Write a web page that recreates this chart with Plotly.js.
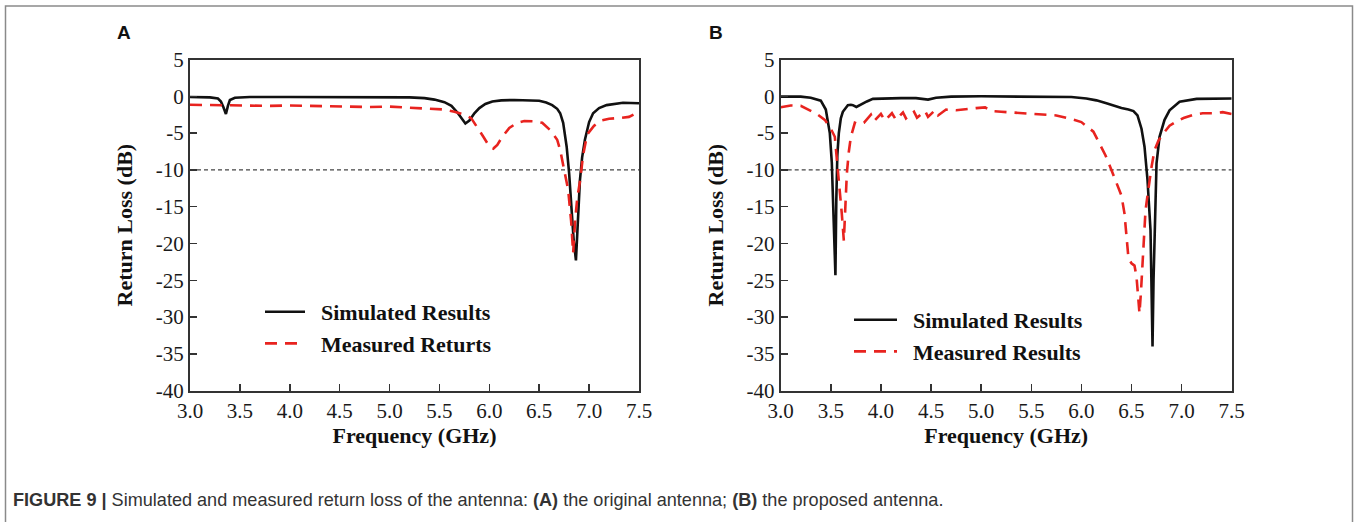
<!DOCTYPE html>
<html><head><meta charset="utf-8">
<script src="https://cdn.plot.ly/plotly-3.0.1.min.js"></script>
<style>html,body{margin:0;padding:0;background:#fff;}#chart{width:1359px;height:522px;}</style>
</head><body><div id="chart"></div>
<script>
// ---------- DATA ----------
const xTickVals = [3.0, 3.5, 4.0, 4.5, 5.0, 5.5, 6.0, 6.5, 7.0, 7.5];
const xTickText = ['3.0','3.5','4.0','4.5','5.0','5.5','6.0','6.5','7.0','7.5'];
const yTickVals = [5, 0, -5, -10, -15, -20, -25, -30, -35, -40];
const yTickText = ['5','0','-5','-10','-15','-20','-25','-30','-35','-40'];
const threshold = -10;

// Panel A: original antenna
const fA_sim = [3.00,3.10,3.20,3.28,3.31,3.335,3.36,3.38,3.40,3.45,3.60,4.00,4.50,5.00,5.20,5.35,5.45,5.55,5.62,5.68,5.72,5.76,5.80,5.85,5.90,5.96,6.03,6.12,6.25,6.40,6.50,6.57,6.63,6.68,6.71,6.74,6.775,6.80,6.825,6.845,6.868,6.888,6.908,6.93,6.958,7.00,7.04,7.10,7.175,7.34,7.50];
const vA_sim = [-0.1,-0.1,-0.15,-0.3,-0.7,-1.5,-2.4,-1.3,-0.5,-0.2,-0.1,-0.1,-0.1,-0.1,-0.15,-0.25,-0.45,-0.8,-1.3,-2.2,-3.0,-3.7,-3.3,-2.3,-1.6,-1.05,-0.7,-0.55,-0.5,-0.5,-0.6,-0.85,-1.2,-1.7,-2.3,-3.6,-6.85,-10.5,-15.9,-19.5,-22.3,-17.0,-11.4,-8.3,-5.9,-3.5,-2.3,-1.6,-1.2,-0.87,-0.95];

const fA_meas = [3.00,3.20,3.40,3.60,3.80,4.00,4.20,4.40,4.60,4.80,5.00,5.20,5.40,5.55,5.65,5.75,5.82,5.88,5.94,6.00,6.04,6.08,6.13,6.20,6.28,6.35,6.45,6.53,6.61,6.68,6.71,6.75,6.79,6.82,6.84,6.86,6.88,6.91,6.94,6.98,7.05,7.12,7.20,7.30,7.40,7.50];
const vA_meas = [-1.15,-1.2,-1.2,-1.3,-1.3,-1.25,-1.3,-1.4,-1.5,-1.45,-1.4,-1.55,-1.6,-1.8,-2.1,-2.5,-3.0,-4.2,-5.5,-6.8,-7.1,-6.6,-5.5,-4.3,-3.6,-3.35,-3.4,-3.6,-4.6,-5.9,-7.3,-10.0,-12.7,-17.0,-21.3,-16.8,-14.0,-11.4,-8.0,-5.2,-4.0,-3.3,-3.05,-2.95,-2.8,-2.1];

// Panel B: proposed antenna
const fB_sim = [3.00,3.20,3.30,3.40,3.45,3.49,3.51,3.52,3.535,3.546,3.555,3.565,3.58,3.60,3.62,3.67,3.70,3.72,3.755,3.80,3.86,3.92,4.00,4.20,4.35,4.42,4.47,4.55,4.70,5.00,5.50,5.90,6.05,6.15,6.25,6.32,6.40,6.47,6.52,6.56,6.60,6.63,6.66,6.69,6.71,6.72,6.735,6.75,6.78,6.83,6.88,6.98,7.15,7.30,7.50];
const vB_sim = [-0.05,-0.05,-0.2,-0.6,-1.8,-5.0,-9.0,-13.0,-18.5,-24.3,-14.0,-8.0,-5.0,-3.0,-2.1,-1.2,-1.15,-1.2,-1.45,-1.1,-0.7,-0.35,-0.3,-0.25,-0.25,-0.4,-0.45,-0.2,-0.05,0.0,0.0,-0.1,-0.3,-0.55,-0.95,-1.3,-1.6,-1.8,-2.0,-2.6,-4.4,-6.85,-11.4,-18.2,-34.0,-25.0,-15.9,-9.1,-5.5,-3.2,-1.9,-0.73,-0.35,-0.3,-0.3];

const fB_meas = [3.00,3.10,3.20,3.28,3.36,3.44,3.50,3.54,3.56,3.575,3.61,3.63,3.645,3.66,3.68,3.70,3.74,3.78,3.83,3.90,3.93,4.00,4.04,4.11,4.15,4.22,4.25,4.33,4.36,4.44,4.47,4.54,4.57,4.65,4.75,4.85,4.95,5.04,5.10,5.20,5.30,5.45,5.60,5.75,5.90,6.00,6.12,6.18,6.24,6.30,6.36,6.40,6.43,6.455,6.47,6.50,6.53,6.55,6.57,6.58,6.595,6.61,6.625,6.64,6.66,6.68,6.70,6.73,6.77,6.82,6.88,6.95,7.02,7.11,7.21,7.31,7.41,7.50];
const vB_meas = [-1.5,-1.25,-1.3,-1.8,-2.4,-3.2,-4.4,-5.5,-8.3,-10.5,-16.0,-19.6,-14.0,-10.5,-7.5,-5.5,-3.6,-3.8,-3.6,-2.5,-3.4,-2.4,-3.3,-2.3,-3.2,-2.2,-3.0,-2.1,-2.9,-2.0,-2.8,-1.9,-2.6,-1.8,-1.9,-1.7,-1.6,-1.5,-2.0,-2.1,-2.2,-2.4,-2.5,-2.6,-3.1,-3.5,-4.8,-6.3,-8.0,-10.0,-12.0,-13.5,-15.9,-19.5,-22.0,-22.7,-23.0,-24.5,-28.0,-29.5,-26.5,-23.0,-18.5,-15.5,-13.5,-11.4,-9.6,-7.3,-6.0,-5.0,-4.0,-3.4,-2.95,-2.55,-2.3,-2.3,-2.15,-2.4];

const seriesNames = ['Simulated Results', 'Measured Returts', 'Simulated Results', 'Measured Results'];
const panelLabels = ['A', 'B'];
const captionText = '<b>FIGURE 9 |</b> Simulated and measured return loss of the antenna: <b>(A)</b> the original antenna; <b>(B)</b> the proposed antenna.';
const xTitle = 'Frequency (GHz)';
const yTitle = 'Return Loss (dB)';

// ---------- LAYOUT HELPERS ----------
const W = 1359, H = 522;
const px = v => v / W;
const py = v => 1 - v / H;
const serif = 'Liberation Serif, Times New Roman, serif';
const sans = 'Liberation Sans, Arial, sans-serif';
const RED = '#e8231f';
const pad = '\u00a0\u00a0';

const simLine = {color: '#111', width: 2.6};
const measLine = {color: RED, width: 2.6, dash: '12px,8px'};

const traces = [
  {x: fA_sim, y: vA_sim, xaxis: 'x', yaxis: 'y', mode: 'lines', name: pad + seriesNames[0], line: simLine, legend: 'legend'},
  {x: fA_meas, y: vA_meas, xaxis: 'x', yaxis: 'y', mode: 'lines', name: pad + seriesNames[1], line: measLine, legend: 'legend'},
  {x: fB_sim, y: vB_sim, xaxis: 'x2', yaxis: 'y2', mode: 'lines', name: pad + seriesNames[2], line: simLine, legend: 'legend2'},
  {x: fB_meas, y: vB_meas, xaxis: 'x2', yaxis: 'y2', mode: 'lines', name: pad + seriesNames[3], line: measLine, legend: 'legend2'}
];

function xAxis(domain, anchor) {
  return {
    domain: domain, anchor: anchor, range: [xTickVals[0], xTickVals[xTickVals.length-1]],
    tickmode: 'array', tickvals: xTickVals, ticktext: xTickText,
    ticks: 'inside', ticklen: 7, tickwidth: 1.5, tickcolor: '#333',
    showline: true, linecolor: '#333', linewidth: 2, mirror: true,
    showgrid: false, zeroline: false, automargin: false, fixedrange: true,
    tickfont: {family: serif, size: 21, color: '#1a1a1a'},
    title: {text: xTitle, font: {family: serif, size: 22, color: '#111', weight: 'bold'}, standoff: 6}
  };
}
function yAxis(domain, anchor) {
  return {
    domain: domain, anchor: anchor, range: [yTickVals[yTickVals.length-1], yTickVals[0]],
    tickmode: 'array', tickvals: yTickVals, ticktext: yTickText,
    ticks: 'inside', ticklen: 7, tickwidth: 1.5, tickcolor: '#333',
    showline: true, linecolor: '#333', linewidth: 2, mirror: true,
    showgrid: false, zeroline: false, automargin: false, fixedrange: true,
    tickfont: {family: serif, size: 21, color: '#1a1a1a'},
    title: {text: yTitle, font: {family: serif, size: 22, color: '#111', weight: 'bold'}, standoff: 17}
  };
}

const yDom = [py(390.7), py(59.5)];
const legendFont = {family: serif, size: 22, color: '#111', weight: 'bold'};

const layout = {
  width: W, height: H,
  margin: {l: 0, r: 0, t: 0, b: 0},
  paper_bgcolor: '#fff', plot_bgcolor: '#fff',
  showlegend: true,
  xaxis: xAxis([px(190), px(639)], 'y'),
  yaxis: yAxis(yDom, 'x'),
  xaxis2: xAxis([px(780.7), px(1231.7)], 'y2'),
  yaxis2: yAxis(yDom, 'x2'),
  legend: {x: px(260), y: py(291), xanchor: 'left', yanchor: 'top', bgcolor: 'rgba(0,0,0,0)', font: legendFont, itemwidth: 40, tracegroupgap: 0},
  legend2: {x: px(849), y: py(299), xanchor: 'left', yanchor: 'top', bgcolor: 'rgba(0,0,0,0)', font: legendFont, itemwidth: 43, tracegroupgap: 0},
  shapes: [
    {type: 'line', xref: 'x', yref: 'y', x0: xTickVals[0], x1: xTickVals[xTickVals.length-1], y0: threshold, y1: threshold, layer: 'below', line: {color: '#444', width: 1.3, dash: '4px,3px'}},
    {type: 'line', xref: 'x2', yref: 'y2', x0: xTickVals[0], x1: xTickVals[xTickVals.length-1], y0: threshold, y1: threshold, layer: 'below', line: {color: '#444', width: 1.3, dash: '4px,3px'}},
    {type: 'path', xref: 'paper', yref: 'paper', path: `M ${px(5.5)} ${py(540)} L ${px(5.5)} ${py(6)} L ${px(1352.5)} ${py(6)} L ${px(1352.5)} ${py(540)}`, line: {color: '#8a8a8a', width: 1.5}}
  ],
  annotations: [
    {xref: 'paper', yref: 'paper', x: px(124), y: py(33), text: panelLabels[0], showarrow: false, xanchor: 'center', yanchor: 'middle', font: {family: sans, size: 19, color: '#111', weight: 'bold'}},
    {xref: 'paper', yref: 'paper', x: px(716), y: py(33), text: panelLabels[1], showarrow: false, xanchor: 'center', yanchor: 'middle', font: {family: sans, size: 19, color: '#111', weight: 'bold'}},
    {xref: 'paper', yref: 'paper', x: px(11), y: py(500), text: captionText, showarrow: false, xanchor: 'left', yanchor: 'middle', font: {family: sans, size: 18.1, color: '#333'}}
  ]
};

Plotly.newPlot('chart', traces, layout, {displayModeBar: false, staticPlot: true});
</script>
</body></html>
